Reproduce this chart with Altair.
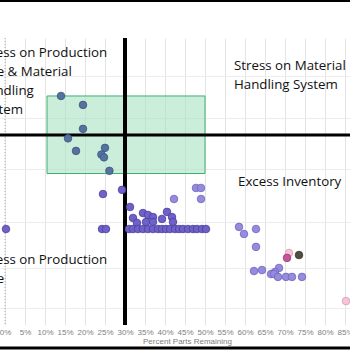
import altair as alt
import pandas as pd

# ---- data ----
pts_x = [14.0, 19.5, 19.5, 15.75, 17.75, 25.0, 24.1, 24.75, 26.1,
         0.25, 24.5, 29.25, 24.25, 25.25, 31.25, 32.0, 33.0, 34.5, 35.25, 35.75,
         37.0, 37.0, 39.25, 40.5, 41.75, 42.0,
         31.0, 32.0, 33.25, 34.5, 35.75, 37.0, 38.25, 39.25, 40.25, 41.25,
         42.5, 43.5, 44.5, 45.75, 47.0, 48.0, 49.25, 50.25,
         42.25, 47.75, 49.0, 49.0,
         58.5, 59.75, 62.75, 62.75, 62.25, 64.25, 68.5, 67.5, 66.5, 67.25,
         68.25, 70.25, 71.75, 74.25,
         71.0, 70.5, 73.5, 85.25]
pts_y = [1.205, 1.158, 1.032, 0.982, 0.916, 0.932, 0.897, 0.882, 0.811,
         0.505, 0.689, 0.711, 0.505, 0.505, 0.621, 0.563, 0.537, 0.589, 0.542, 0.579,
         0.568, 0.542, 0.558, 0.595, 0.568, 0.542,
         0.505, 0.505, 0.505, 0.505, 0.505, 0.505, 0.505, 0.505, 0.505, 0.505,
         0.505, 0.505, 0.505, 0.505, 0.505, 0.505, 0.505, 0.505,
         0.663, 0.721, 0.721, 0.663,
         0.516, 0.479, 0.505, 0.411, 0.284, 0.289, 0.300, 0.279, 0.268, 0.268,
         0.253, 0.253, 0.253, 0.253,
         0.379, 0.353, 0.368, 0.126]
pts_g = (["A"] * 9 + ["B"] * 35 + ["C"] * 4 + ["C"] * 14 +
         ["D", "E", "F", "D"])

group_names = ["A", "B", "C", "D", "E", "F"]
group_fill = ["#55729f", "#6e61c8", "#958cdd", "#f6c3d8", "#c4569a", "#4f4f42"]
group_stroke = ["#3b5580", "#4a3e9e", "#6e64bf", "#d79ab4", "#9a3a74", "#333328"]

x_ticks = list(range(0, 90, 5))
y_grid = [0.09, 0.3, 0.54, 0.82, 1.09, 1.31]

box_x, box_x2 = 10.5, 50.0
box_y, box_y2 = 0.797, 1.205
split_x = 30.0
split_y = 1.0

notes_text = ["Stress on Production", "Line & Material", "Handling", "System",
              "Stress on Material", "Handling System",
              "Excess Inventory",
              "Stress on Production", "Line"]
notes_x = [-6.7, -6.7, -6.7, -6.7, 57.25, 57.25, 58.25, -6.7, -6.7]
notes_y = [1.432, 1.332, 1.232, 1.132, 1.363, 1.263, 0.753, 0.342, 0.242]

# ---- chart ----
pts = pd.DataFrame({"x": pts_x, "y": pts_y, "g": pts_g})
notes = pd.DataFrame({"t": notes_text, "x": notes_x, "y": notes_y})

xs = alt.Scale(domain=[-1.25, 86.25], nice=False, zero=False)
ys = alt.Scale(domain=[0, 1.51], nice=False, zero=False)

xaxis = alt.Axis(values=x_ticks, labelExpr="datum.value + '%'",
                 title="Percent Parts Remaining", titleFontSize=8,
                 titleColor="#808080", titleFontWeight="normal",
                 titleFont="Liberation Sans", titlePadding=1, titleX=187,
                 labelFontSize=8, labelColor="#808080", labelFont="Liberation Sans",
                 labelPadding=3, labelFlush=False, labelOverlap=False,
                 labelSeparation=0, labelBound=False,
                 domain=False, ticks=False, grid=True, gridColor="#e4e4e4",
                 gridWidth=1)
yaxis = alt.Axis(values=y_grid, labels=False,
                 ticks=False, domain=False, title=None, grid=True,
                 gridColor="#ececec", gridWidth=1)


def X(f="x:Q"):
    return alt.X(f, scale=xs, axis=xaxis, title="Percent Parts Remaining")


def Y(f="y:Q"):
    return alt.Y(f, scale=ys, axis=yaxis, title=None)


base = alt.Chart(pts)

zero_line = alt.Chart(pd.DataFrame({"x": [0.0]})).mark_rule(
    color="#aaaaaa", strokeDash=[1, 2], strokeWidth=1).encode(x=X())

box = alt.Chart(pd.DataFrame({"x": [box_x], "x2": [box_x2], "y": [box_y], "y2": [box_y2]})).mark_rect(
    fill="#a8e3c3", fillOpacity=0.6, stroke="#3fae73", strokeWidth=1).encode(
    x=X(), x2="x2:Q", y=Y(), y2="y2:Q")

vline = alt.Chart(pd.DataFrame({"x": [split_x]})).mark_rule(
    color="black", strokeWidth=4).encode(x=X())
hline = alt.Chart(pd.DataFrame({"y": [split_y]})).mark_rule(
    color="black", strokeWidth=3).encode(y=Y())

dots = base.mark_circle(size=58, opacity=1, strokeWidth=0.8).encode(
    x=X(), y=Y(),
    color=alt.Color("g:N", scale=alt.Scale(domain=group_names, range=group_fill), legend=None),
    stroke=alt.Stroke("g:N", scale=alt.Scale(domain=group_names, range=group_stroke), legend=None))

text = alt.Chart(notes).mark_text(
    align="left", baseline="middle", fontSize=13.3, font="Open Sans",
    color="#111111", clip=True).encode(x=X(), y=Y(), text="t:N")

top_border = alt.Chart(pd.DataFrame({"a": [0]})).mark_rule(
    color="black", strokeWidth=2).encode(
    x=alt.value(0), x2=alt.value(350), y=alt.value(-37))
bottom_border = alt.Chart(pd.DataFrame({"a": [0]})).mark_rule(
    color="black", strokeWidth=3).encode(
    x=alt.value(0), x2=alt.value(350), y=alt.value(23 + 287))

chart = alt.layer(zero_line, box, vline, hline, dots, text,
                  top_border, bottom_border).properties(
    width=350, height=287,
    autosize=alt.AutoSizeParams(type="none"),
    padding={"left": 0, "right": 0, "top": 38, "bottom": 25},
    background="white",
).configure_view(stroke=None)

chart.save("out.html", embed_options={"renderer": "svg", "actions": False})
